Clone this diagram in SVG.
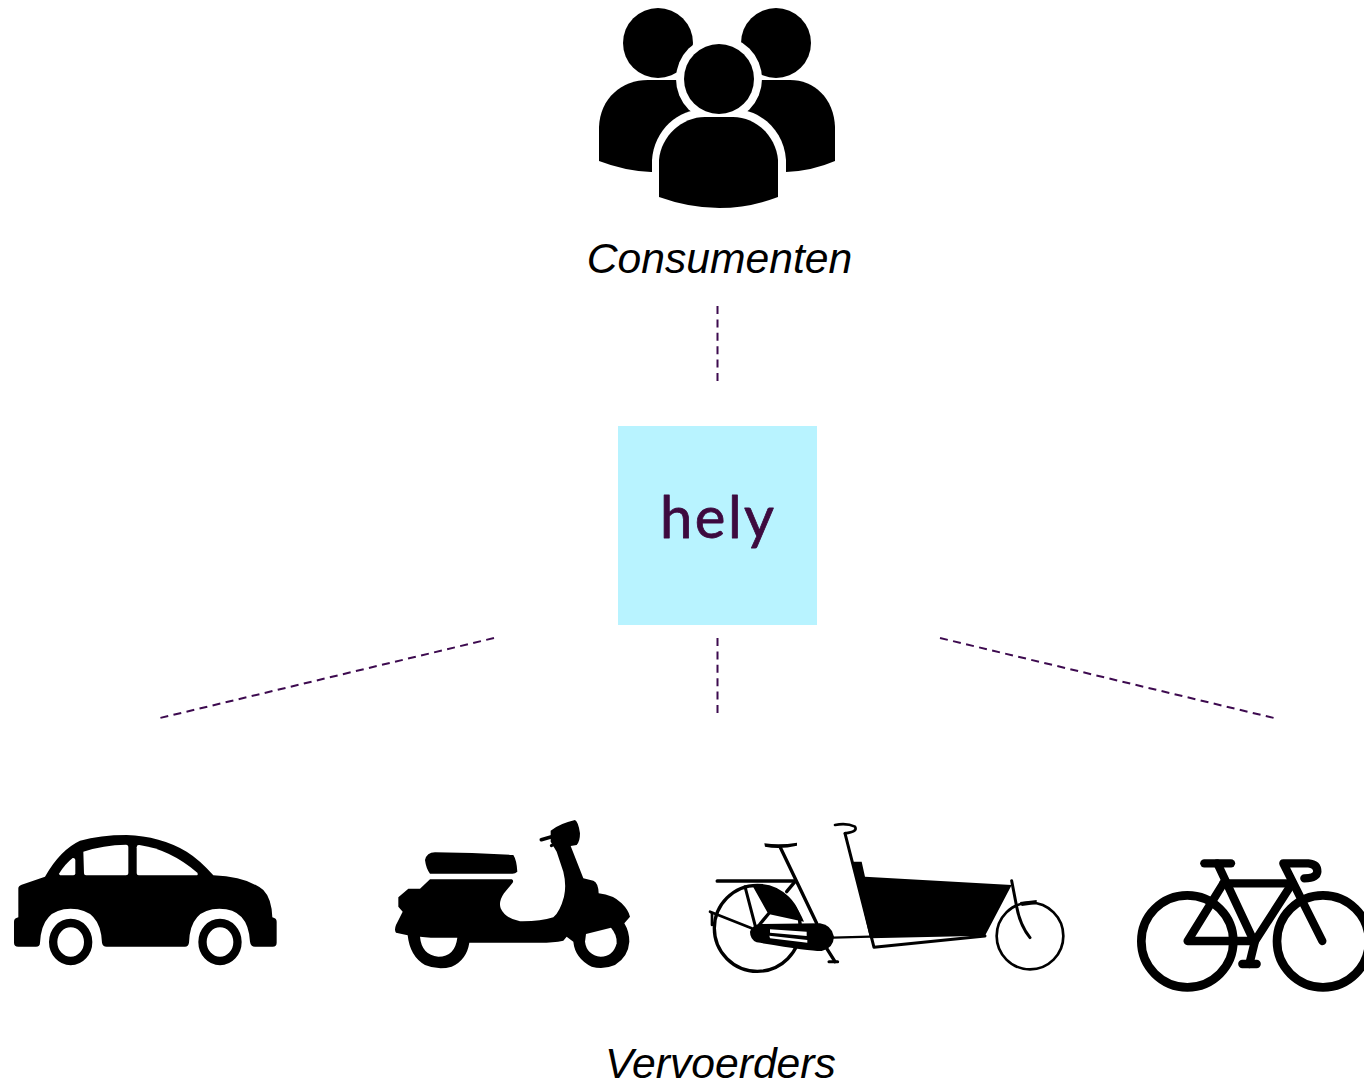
<svg xmlns="http://www.w3.org/2000/svg" width="1364" height="1084" viewBox="0 0 1364 1084">
<style>
.label{font-family:"Liberation Sans",Arial,sans-serif;font-style:italic;font-size:42.67px;fill:#000;text-anchor:middle}
.dash{fill:none;stroke:#3d0a4f;stroke-width:2;stroke-dasharray:8 5.4}
.k{fill:#000}
.w{fill:#fff}
.l{fill:none;stroke:#000;stroke-linecap:round;stroke-linejoin:round}
</style>
<rect width="1364" height="1084" fill="#fff"/>
<g id="connectors">
<line class="dash" x1="717.5" y1="306" x2="717.5" y2="381"/>
<line class="dash" x1="717.5" y1="638" x2="717.5" y2="713"/>
<line class="dash" x1="494" y1="638" x2="160" y2="718"/>
<line class="dash" x1="940" y1="638" x2="1274" y2="718"/>
</g>
<g id="consumenten">
<circle class="k" cx="658" cy="43" r="35"/>
<circle class="k" cx="776" cy="43" r="35"/>
<path class="k" d="M599 161V127C600 98 622 80 648 80H790C814 80 834 98 835 127V161Q812 171 786 172H651Q625 171 599 161Z"/>
<circle class="w" cx="719" cy="79" r="43"/>
<path class="w" d="M652 176V160C654 130 678 109 705 109H733C760 109 784 130 786 160V200H652Z"/>
<circle class="k" cx="719" cy="79" r="35"/>
<path class="k" d="M659 197V160C661 136 682 117 705 117H733C756 117 776 136 778 160V197Q720 219 659 197Z"/>
<text class="label" x="719.5" y="273">Consumenten</text>
</g>
<g id="hely">
<rect x="618" y="426" width="199" height="199" fill="#b8f3ff"/>
<text x="717" y="538" font-family="Lato,'Noto Sans',sans-serif" font-size="58" textLength="114" lengthAdjust="spacing" text-anchor="middle" fill="#3d0a3f" stroke="#3d0a3f" stroke-width="0.8" stroke-linejoin="round">hely</text>
</g>
<g id="auto" transform="translate(0 810) scale(.33333)">
<path class="k" d="M42 335Q42 325 55 322V235Q55 228 65 224L135 200Q180 120 240 92Q300 75 380 75Q480 78 560 125Q600 150 640 196Q740 200 790 240Q815 265 817 322Q830 325 830 335V398Q830 410 818 410H765Q752 410 750 395Q745 296 658 296Q570 296 567 398Q565 410 555 410H320Q308 410 306 398Q302 296 212 296Q125 296 120 398Q120 410 108 410H55Q42 410 42 398Z"/>
<path class="w" d="M178 190Q195 162 218 144Q226 143 226 152V190Q226 196 220 196H184Q176 196 178 190Z"/>
<path class="w" d="M250 125Q310 105 378 104Q385 104 385 112V190Q385 196 378 196H258Q252 196 252 190Z"/>
<path class="w" d="M410 112Q410 104 418 105Q510 118 592 188Q596 196 588 196H416Q410 196 410 190Z"/>
<ellipse cx="212" cy="396" rx="52.5" ry="57" fill="#fff" stroke="#000" stroke-width="25"/>
<ellipse cx="660" cy="396" rx="52.5" ry="57" fill="#fff" stroke="#000" stroke-width="25"/>
</g>
<g id="scooter" transform="translate(380 810) scale(.33333)">
<path class="k" d="M135 150Q140 128 165 127Q280 128 400 135Q410 150 412 185Q405 192 395 191H150Q138 175 135 150Z"/>
<path class="k" d="M150 208H395Q402 210 398 218L372 250Q355 275 362 295Q375 325 420 334Q480 335 520 322Q540 305 552 260Q560 225 550 185L530 125L512 95V62Q540 40 585 30Q595 35 600 70Q600 95 590 105L572 108L610 205L640 212Q655 218 656 250Q700 255 725 280Q745 300 750 320L733 340Q748 365 748 395Q745 440 705 465Q670 480 635 470Q585 445 580 395L560 380L550 392Q520 398 480 398H268Q260 450 215 470Q175 482 135 465Q90 440 83 376L48 368Q42 360 48 345L68 305L55 290V262L85 236H120Z"/>
<path class="w" d="M120 380Q160 385 232 383Q225 440 175 440Q125 435 120 380Z"/>
<path class="w" d="M618 372L693 353Q712 375 710 400Q700 440 662 440Q620 435 615 395Z"/>
<line class="l" x1="484" y1="89" x2="515" y2="80" stroke-width="11"/>
<line class="l" x1="514" y1="107" x2="522" y2="103" stroke-width="9"/>
</g>
<g id="bakfiets" transform="translate(700 810) scale(.33333)">
<circle cx="172" cy="355" r="129" fill="none" stroke="#000" stroke-width="10"/>
<circle cx="990" cy="378" r="100" fill="none" stroke="#000" stroke-width="8"/>
<path class="k" d="M160 232L205 312L312 335Q285 270 240 245Q200 222 160 222Z"/>
<path class="k" d="M150 365Q155 348 175 342L360 340Q395 345 402 380Q400 415 365 423Q340 425 170 397Q150 388 150 365Z"/>
<path class="w" d="M210 358L320 365V378L210 368Z"/>
<path class="w" d="M208 377L322 390V398L210 385Z"/>
<path class="k" d="M458 155H485L495 200L935 225L855 377L510 385Z"/>
<path class="k" d="M193 100Q240 107 291 98V107Q240 119 195 110Z"/>
<path class="k" d="M960 276L1010 270V282L965 288Z"/>
<g class="l">
<line x1="52" y1="213" x2="285" y2="213" stroke-width="11"/>
<line x1="260" y1="245" x2="285" y2="215" stroke-width="10"/>
<line x1="240" y1="110" x2="350" y2="340" stroke-width="10"/>
<line x1="135" y1="230" x2="165" y2="345" stroke-width="9"/>
<line x1="205" y1="312" x2="180" y2="342" stroke-width="10"/>
<line x1="30" y1="305" x2="155" y2="355" stroke-width="8"/>
<line x1="36" y1="310" x2="36" y2="345" stroke-width="8"/>
<line x1="380" y1="415" x2="405" y2="455" stroke-width="10"/>
<line x1="387" y1="455" x2="413" y2="455" stroke-width="9"/>
<line x1="400" y1="383" x2="510" y2="380" stroke-width="7"/>
<path d="M435 70L522 412L855 378" stroke-width="9"/>
<path d="M405 45Q440 38 465 50Q475 65 435 70" stroke-width="8"/>
<path d="M935 212L950 290Q960 345 990 383" stroke-width="9"/>
</g>
</g>
<g id="fiets" transform="translate(1120 840) scale(.33333)">
<circle cx="202" cy="304" r="138" fill="none" stroke="#000" stroke-width="26"/>
<circle cx="609" cy="304" r="138" fill="none" stroke="#000" stroke-width="26"/>
<g class="l" stroke-width="25">
<path d="M253 70H333"/>
<path d="M292 70L400 300"/>
<path d="M310 130H505"/>
<path d="M310 130L203 303H405L510 140"/>
<path d="M405 303L388 372"/>
<path d="M367 372H410"/>
<path d="M607 303L490 70H565Q592 72 592 95Q590 115 553 115"/>
</g>
</g>
<text id="vervoerders" class="label" x="720.5" y="1078">Vervoerders</text>
</svg>
